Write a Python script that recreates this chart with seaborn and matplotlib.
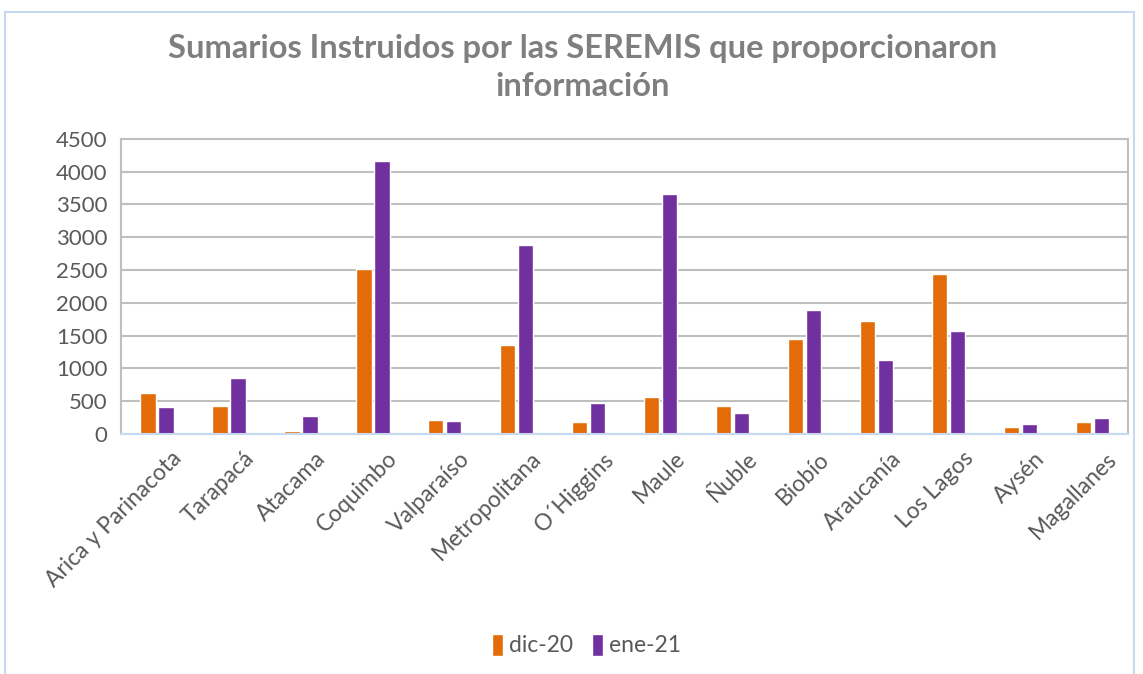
import matplotlib.pyplot as plt
import matplotlib.patches as patches
import matplotlib.transforms as mtransforms
import pandas as pd
import seaborn as sns

regiones = ["Arica y Parinacota", "Tarapacá", "Atacama", "Coquimbo", "Valparaíso",
            "Metropolitana", "O´Higgins", "Maule", "Ñuble", "Biobío", "Araucanía",
            "Los Lagos", "Aysén", "Magallanes"]
dic_20 = [633, 434, 51, 2510, 219, 1362, 189, 571, 429, 1454, 1730, 2439, 107, 189]
ene_21 = [418, 862, 281, 4168, 199, 2878, 480, 3658, 321, 1898, 1133, 1571, 148, 250]
series = ["dic-20", "ene-21"]
colores = ["#E36C09", "#7030A0"]

df = pd.DataFrame({
    "region": regiones * 2,
    "valor": dic_20 + ene_21,
    "serie": [series[0]] * len(regiones) + [series[1]] * len(regiones),
})

sns.set_theme(style="white")
plt.rcParams["font.family"] = ["Lato", "DejaVu Sans"]
gris = "#595959"

fig = plt.figure(figsize=(11.43, 6.74), dpi=100)
ax = fig.add_axes([0.106, 0.356, 0.881, 0.438])

sns.barplot(data=df, x="region", y="valor", hue="serie", hue_order=series,
            palette=colores, width=0.5, gap=0.15, ax=ax, saturation=1)

ax.set_ylim(0, 4500)
ax.set_yticks(range(0, 4501, 500))
ax.set_xlim(-0.5, len(regiones) - 0.5)
ax.yaxis.grid(True, color="#bfbfbf", linewidth=1.5)
ax.set_axisbelow(True)
ax.set_xlabel("")
ax.set_ylabel("")
for lado in ["top", "right", "left"]:
    ax.spines[lado].set_color("#bfbfbf")
    ax.spines[lado].set_linewidth(1.5)
ax.spines["bottom"].set_color("#c6d9f1")
ax.spines["bottom"].set_linewidth(1.5)

ax.tick_params(axis="y", labelsize=16, labelcolor=gris, length=0, pad=10)
ax.tick_params(axis="x", labelsize=16.5, labelcolor=gris, length=0, pad=10)
desplazar = mtransforms.ScaledTranslation(14 / 100, 0, fig.dpi_scale_trans)
for lbl in ax.get_xticklabels():
    lbl.set_rotation(45)
    lbl.set_ha("right")
    lbl.set_rotation_mode("anchor")
    lbl.set_transform(lbl.get_transform() + desplazar)

fig.suptitle("Sumarios Instruidos por las SEREMIS que proporcionaron\ninformación",
             x=0.51, y=0.95, fontsize=23.5, fontweight="bold", color="#7f7f7f",
             linespacing=1.4)

fig.legend(*ax.get_legend_handles_labels(), loc="center",
           bbox_to_anchor=(0.513, 0.043), ncol=2, frameon=False, fontsize=16.5,
           labelcolor=gris, handlelength=0.5, handleheight=1.1,
           handletextpad=0.25, columnspacing=0.8)
ax.get_legend().remove()

borde = patches.Rectangle((0.004, -0.01), 0.988, 0.992, transform=fig.transFigure,
                          fill=False, edgecolor="#c6d9f1", linewidth=1.5)
fig.patches.append(borde)

fig.savefig("out.png", dpi=100)
